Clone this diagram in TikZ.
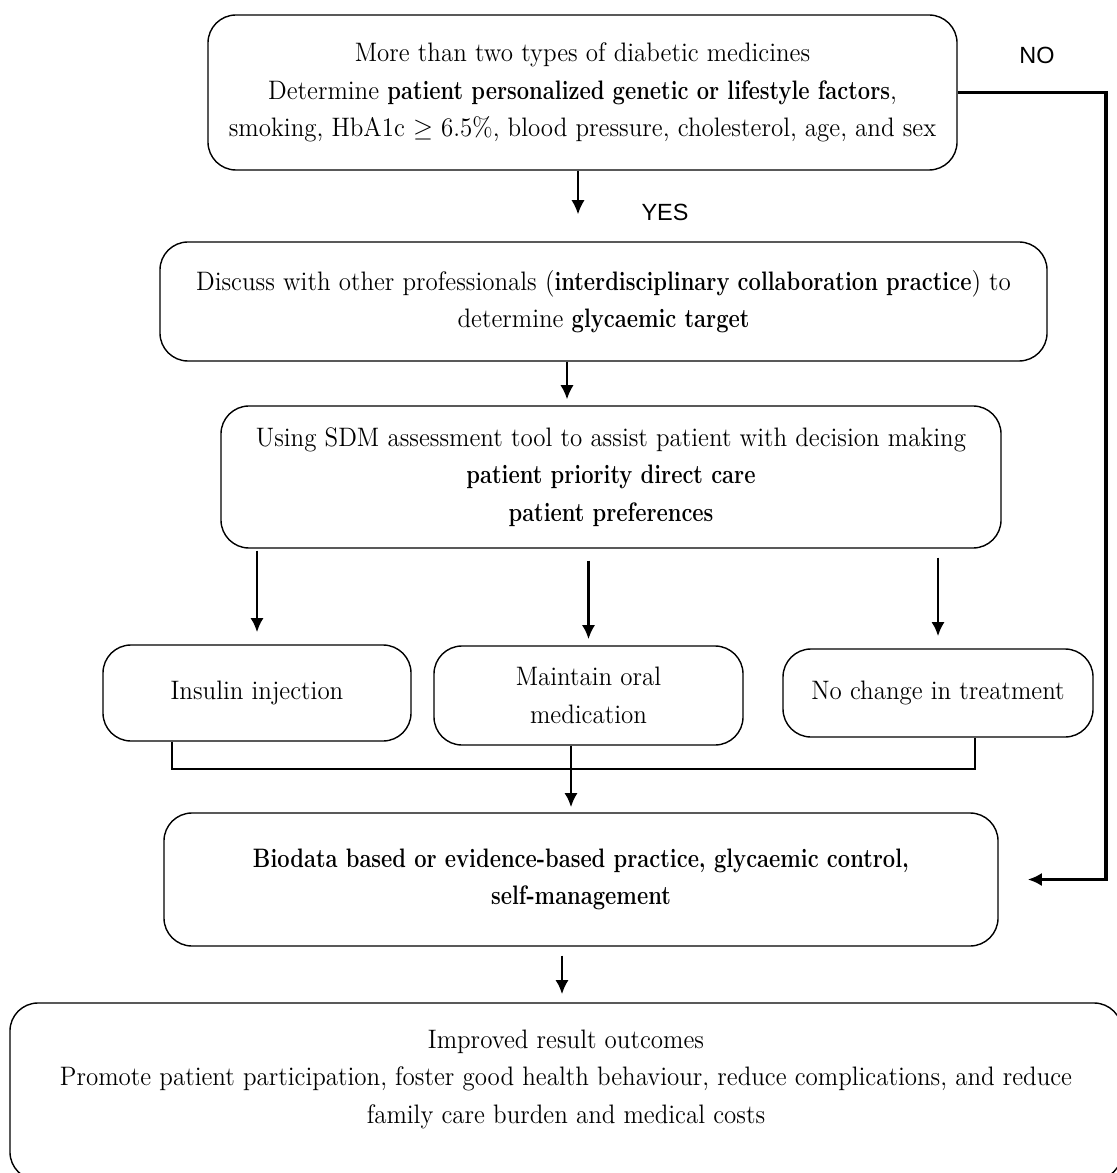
\documentclass[tikz,border=0pt]{standalone}
\usepackage{fontspec}
\setmainfont{Latin Modern Roman}[FakeStretch=0.935, BoldFeatures={FakeStretch=0.82}]
\usepackage{tikz}
\usetikzlibrary{arrows.meta}
\tikzset{>={Latex[length=6pt, width=5.6pt]}}
\usetikzlibrary{calc}
\newfontfamily\answerfont{Liberation Sans}
\tikzset{
    flowbox/.style={draw, line width=0.6pt, rounded corners=0.42cm, align=center, inner sep=0pt, font=\fontsize{11.4}{16}\selectfont},
    flowtext/.style={align=center, inner sep=0pt, font=\fontsize{11.4}{16}\selectfont},
    answer/.style={font=\answerfont\fontsize{10}{12}\selectfont, inner sep=0pt},
    arrow/.style={->, line width=1.2pt},
    thinarrow/.style={->, line width=0.8pt},
}

\begin{document}
\begin{tikzpicture}[x=0.015cm, y=-0.015cm]
            \useasboundingbox (0, 0) rectangle (1116, 1173);
            \node[flowbox, minimum width=11.235cm, minimum height=2.325cm] (medicines) at (582.5, 92.5) {More than two types of diabetic medicines\\ Determine \textbf{patient personalized genetic or lifestyle factors},\\ smoking, HbA1c $\geq$ 6.5\%, blood pressure, cholesterol, age, and sex};
            \node[flowbox, minimum width=13.305cm, minimum height=1.785cm] (discuss) at (603.5, 301.5) {Discuss with other professionals (\textbf{interdisciplinary collaboration practice}) to\\ determine \textbf{glycaemic target}};
            \node[flowbox, minimum width=11.7cm, minimum height=2.13cm] (sdm) at (611, 477) {Using SDM assessment tool to assist patient with decision making\\ \textbf{patient priority direct care}\\ \textbf{patient preferences}};
            \node[flowbox, minimum width=4.62cm, minimum height=1.44cm] (insulin) at (257, 693) {Insulin injection};
            \node[flowbox, minimum width=4.635cm, minimum height=1.485cm] (oral) at (588.5, 695.5) {Maintain oral\\ medication};
            \node[flowbox, minimum width=4.65cm, minimum height=1.32cm] (nochange) at (938, 693) {No change in treatment};
            \node[flowbox, minimum width=12.51cm, minimum height=1.995cm] (biodata) at (581, 879.5) {\textbf{Biodata based or evidence-based practice, glycaemic control,}\\ \textbf{self-management}};
            \node[flowbox, minimum width=16.68cm, minimum height=2.655cm] (outcomes) at (566, 1091.5) {};
            \node[flowtext] (outcomestext) at (566, 1079) {Improved result outcomes\\ Promote patient participation, foster good health behaviour, reduce complications, and reduce\\ family care burden and medical costs};
            \node[answer] (yes) at (665, 212) {YES};
            \node[answer] (no) at (1037, 55) {NO};
            \coordinate (noturn) at (1106, 0);
            \coordinate (joinrow) at (0, 769);
            \coordinate (insulinfoot) at ([xshift=-1.275cm]insulin.south);
            \coordinate (nochangefoot) at ([xshift=0.555cm]nochange.south);
            \draw[thinarrow, shorten >=0.405cm] ([xshift=-0.0675cm]medicines.south) -- ([xshift=-0.0675cm]medicines.south |- discuss.north);
            \draw[arrow, line width=1.5pt, shorten >=0.435cm] (medicines.east) -- (medicines.east -| noturn) |- (biodata.east);
            \draw[thinarrow, shorten >=0.09cm] ([xshift=-0.5475cm]discuss.south) -- ([xshift=-0.5475cm]discuss.south |- sdm.north);
            \draw[arrow, shorten <=0.03cm, shorten >=0.18cm] (sdm.south -| insulin.north) -- (insulin.north);
            \draw[arrow, shorten <=0.18cm, shorten >=0.09cm] (sdm.south -| oral.north) -- (oral.north);
            \draw[arrow, shorten <=0.135cm, shorten >=0.18cm] (sdm.south -| nochange.north) -- (nochange.north);
            \draw[line width=1.2pt] (insulinfoot) |- (nochangefoot |- joinrow) -- (nochangefoot);
            \draw[arrow, shorten >=0.075cm] ([xshift=-0.2625cm]oral.south) -- ([xshift=-0.2625cm]oral.south |- biodata.north);
            \draw[arrow, shorten <=0.135cm, shorten >=0.12cm] ([xshift=-0.285cm]biodata.south) -- ([xshift=-0.285cm]biodata.south |- outcomes.north);
        \end{tikzpicture}
\end{document}
